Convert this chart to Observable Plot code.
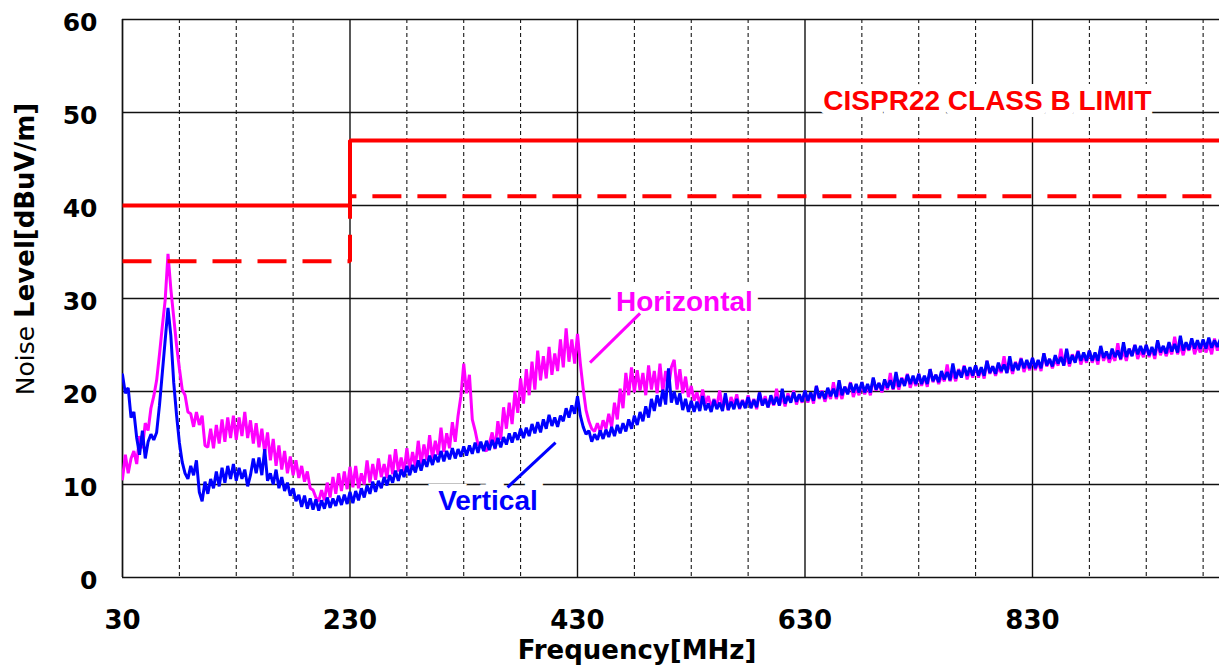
<!DOCTYPE html>
<html><head><meta charset="utf-8">
<script src="https://cdn.jsdelivr.net/npm/d3@7"></script>
<script src="https://cdn.jsdelivr.net/npm/@observablehq/plot@0.6"></script>
<style>html,body{margin:0;padding:0;background:#fff;overflow:hidden}</style>
</head><body><div id="chart"></div>
<script>
// Sweep frequencies (MHz)
const freq = [
30,32.5,35,37.5,40,42.5,45,47.5,50,52.5,55,57.5,60,62.5,65,67.5,70,72.5,75,77.5,
80,82.5,85,87.5,90,92.5,95,97.5,100,102.5,105,107.5,110,112.5,115,117.5,120,122.5,125,127.5,
130,132.5,135,137.5,140,142.5,145,147.5,150,152.5,155,157.5,160,162.5,165,167.5,170,172.5,175,177.5,
180,182.5,185,187.5,190,192.5,195,197.5,200,202.5,205,207.5,210,212.5,215,217.5,220,222.5,225,227.5,
230,232.5,235,237.5,240,242.5,245,247.5,250,252.5,255,257.5,260,262.5,265,267.5,270,272.5,275,277.5,
280,282.5,285,287.5,290,292.5,295,297.5,300,302.5,305,307.5,310,312.5,315,317.5,320,322.5,325,327.5,
330,332.5,335,337.5,340,342.5,345,347.5,350,352.5,355,357.5,360,362.5,365,367.5,370,372.5,375,377.5,
380,382.5,385,387.5,390,392.5,395,397.5,400,402.5,405,407.5,410,412.5,415,417.5,420,422.5,425,427.5,
430,432.5,435,437.5,440,442.5,445,447.5,450,452.5,455,457.5,460,462.5,465,467.5,470,472.5,475,477.5,
480,482.5,485,487.5,490,492.5,495,497.5,500,502.5,505,507.5,510,512.5,515,517.5,520,522.5,525,527.5,
530,532.5,535,537.5,540,542.5,545,547.5,550,552.5,555,557.5,560,562.5,565,567.5,570,572.5,575,577.5,
580,582.5,585,587.5,590,592.5,595,597.5,600,602.5,605,607.5,610,612.5,615,617.5,620,622.5,625,627.5,
630,632.5,635,637.5,640,642.5,645,647.5,650,652.5,655,657.5,660,662.5,665,667.5,670,672.5,675,677.5,
680,682.5,685,687.5,690,692.5,695,697.5,700,702.5,705,707.5,710,712.5,715,717.5,720,722.5,725,727.5,
730,732.5,735,737.5,740,742.5,745,747.5,750,752.5,755,757.5,760,762.5,765,767.5,770,772.5,775,777.5,
780,782.5,785,787.5,790,792.5,795,797.5,800,802.5,805,807.5,810,812.5,815,817.5,820,822.5,825,827.5,
830,832.5,835,837.5,840,842.5,845,847.5,850,852.5,855,857.5,860,862.5,865,867.5,870,872.5,875,877.5,
880,882.5,885,887.5,890,892.5,895,897.5,900,902.5,905,907.5,910,912.5,915,917.5,920,922.5,925,927.5,
930,932.5,935,937.5,940,942.5,945,947.5,950,952.5,955,957.5,960,962.5,965,967.5,970,972.5,975,977.5,
980,982.5,985,987.5,990,992.5,995];
// Horizontal polarisation level (dBuV/m)
const horizontal = [
10.6,13.2,11.2,12.8,13.6,12.2,15.2,13.9,16.6,15.8,18.2,19.5,21.2,24.0,27.0,29.8,34.8,31.0,28.0,25.0,
22.5,20.2,19.6,17.8,17.6,16.2,17.8,16.4,17.4,14.2,14.0,16.0,13.9,16.4,14.4,17.0,14.6,17.2,15.0,17.4,
14.8,17.2,15.2,17.8,15.0,16.9,14.4,16.6,14.0,16.0,13.4,15.6,12.6,14.9,12.0,14.2,11.6,13.6,11.2,13.0,
11.0,12.6,10.7,12.0,10.3,11.4,9.6,9.4,8.6,8.2,9.4,8.3,10.2,8.6,10.8,9.0,11.2,9.3,11.4,9.5,
11.9,9.7,12.0,9.6,11.2,10.0,12.6,10.2,12.2,10.5,12.8,10.8,12.2,10.7,13.2,11.1,13.8,11.4,12.9,11.3,
13.9,11.6,13.5,11.9,14.7,12.2,14.3,12.6,15.3,12.8,14.7,13.2,16.1,13.5,15.5,13.9,16.7,14.6,17.4,19.5,
23.0,19.8,21.8,17.0,15.8,14.3,14.2,13.8,13.6,14.4,15.6,13.8,16.8,14.8,18.3,16.0,18.8,16.5,20.0,17.7,
21.4,18.7,22.4,19.6,23.2,20.2,24.4,21.2,23.8,21.4,24.8,21.8,24.1,22.2,25.6,22.6,26.8,23.2,25.6,23.0,
26.2,23.0,20.3,18.0,16.8,16.0,15.7,16.6,15.6,16.9,16.0,17.6,16.2,18.8,17.0,20.3,18.2,22.0,19.6,22.6,
19.9,22.3,20.1,22.0,19.6,22.8,20.2,22.2,19.8,23.0,20.0,22.2,20.4,22.6,23.4,20.2,22.4,19.8,21.6,19.4,
20.6,19.0,19.9,18.6,20.2,18.7,19.5,18.3,19.2,18.4,20.1,18.2,19.2,18.0,19.4,18.5,19.7,18.1,19.1,18.3,
19.6,18.3,19.2,18.1,19.9,18.5,19.5,18.3,19.2,18.5,20.3,18.5,19.5,18.4,19.8,18.9,20.1,18.6,19.6,18.8,
20.1,18.8,19.8,18.7,20.6,19.2,20.1,18.9,19.9,19.2,21.0,19.2,20.2,19.2,20.5,19.8,21.0,19.4,20.4,19.6,
21.0,19.7,20.6,19.6,21.4,20.1,20.9,19.9,20.8,20.2,22.0,20.2,21.2,20.2,21.5,20.8,21.9,20.4,21.4,20.6,
21.9,20.6,21.6,20.5,22.4,21.0,21.8,20.8,21.7,21.1,22.9,21.1,22.1,21.1,22.4,21.7,22.8,21.3,22.3,21.5,
22.8,21.5,22.5,21.4,23.3,21.9,22.7,21.7,22.6,22.0,23.8,22.0,23.0,21.9,23.2,22.5,23.6,22.1,23.1,22.3,
23.6,22.3,23.3,22.2,24.1,22.7,23.5,22.5,23.4,22.8,24.6,22.8,23.8,22.7,24.0,23.3,24.4,22.9,23.9,23.1,
24.4,23.1,24.0,22.9,24.7,23.3,24.1,23.1,24.0,23.3,25.2,23.4,24.4,23.3,24.6,23.9,25.0,23.5,24.5,23.7,
25.0,23.7,24.6,23.5,25.3,23.9,24.8,23.8,24.7,24.0,25.9,24.0,25.0,23.9,25.1,24.4,25.5,24.0,25.0,24.2,
25.5,24.2,25.1,24.0,25.7,24.4,25.2];
// Vertical polarisation level (dBuV/m)
const vertical = [
21.8,19.8,20.4,17.2,17.8,15.0,13.2,15.8,12.8,14.6,15.4,14.8,15.6,18.5,22.0,25.5,29.0,26.0,21.0,17.5,
14.5,12.4,11.2,10.6,12.0,11.0,12.6,9.2,8.2,10.3,9.0,10.6,9.6,11.4,9.8,11.8,10.2,12.0,10.6,12.2,
10.4,11.8,10.6,11.6,9.8,11.0,12.8,11.2,12.9,11.0,13.8,10.4,11.2,10.0,11.6,9.6,10.8,9.3,10.2,8.8,
9.6,8.2,8.9,7.6,8.8,7.4,8.5,7.3,8.4,7.2,8.3,7.4,8.6,7.5,8.5,7.7,8.8,7.8,8.9,7.9,
9.2,8.0,9.3,8.3,9.6,8.6,9.9,9.0,10.3,9.2,10.4,9.6,10.8,9.9,11.0,10.2,11.5,10.4,11.6,10.8,
12.0,11.0,12.1,11.3,12.6,11.5,12.7,11.9,13.1,12.1,13.2,12.4,13.6,12.5,13.6,12.7,13.9,12.8,13.8,13.0,
14.1,13.1,14.2,13.3,14.5,13.4,14.6,13.6,14.7,13.7,14.8,13.9,15.0,14.0,15.1,14.3,15.5,14.5,15.6,14.8,
16.0,15.0,16.1,15.2,16.5,15.5,16.7,15.6,17.0,16.0,17.5,16.3,17.2,16.2,17.4,16.8,18.2,17.2,18.5,17.6,
19.5,17.4,16.2,15.4,15.8,14.6,15.4,14.8,15.8,14.9,15.9,15.1,16.2,15.2,16.4,15.5,16.6,15.7,17.0,16.0,
17.4,16.4,17.8,16.8,18.4,17.2,19.2,17.9,19.6,18.4,20.2,18.6,22.5,18.8,20.0,18.6,19.8,18.0,19.2,17.8,
19.0,17.8,18.9,17.9,19.5,18.0,18.7,17.8,19.1,18.1,18.8,17.9,19.8,18.0,18.9,18.1,19.2,18.2,19.0,18.2,
19.4,18.2,19.1,18.3,19.9,18.5,19.2,18.3,19.6,18.6,19.4,18.5,20.3,18.7,19.5,18.8,19.9,18.9,19.7,18.9,
20.1,19.0,19.9,19.0,20.6,19.3,20.0,19.2,20.4,19.5,20.3,19.4,21.2,19.6,20.5,19.7,20.9,19.9,20.8,19.9,
21.0,19.9,20.8,19.9,21.5,20.2,20.9,20.1,21.3,20.4,21.2,20.3,22.1,20.5,21.4,20.6,21.8,20.8,21.7,20.8,
21.9,20.8,21.7,20.8,22.4,21.1,21.8,21.0,22.2,21.3,22.1,21.2,23.0,21.4,22.3,21.5,22.7,21.7,22.6,21.7,
22.8,21.7,22.6,21.7,23.3,22.0,22.7,21.9,23.1,22.2,22.9,22.0,23.8,22.2,23.1,22.3,23.5,22.5,23.4,22.5,
23.6,22.5,23.4,22.5,24.1,22.8,23.5,22.7,23.9,23.0,23.7,22.8,24.6,23.0,23.9,23.1,24.3,23.3,24.2,23.3,
24.4,23.3,24.2,23.3,24.9,23.6,24.3,23.5,24.6,23.7,24.4,23.5,25.3,23.7,24.6,23.8,25.0,24.0,24.9,24.0,
25.0,23.9,24.8,23.9,25.5,24.2,24.9,24.1,25.3,24.3,25.1,24.2,26.0,24.4,25.3,24.5,25.7,24.6,25.5,24.6,
25.6,24.6,25.8,24.7,25.5,24.8,25.6];
// CISPR22 class B limit and margin line
const limitFreq = [30, 230, 230, 1000];
const limitQP = [40, 40, 47, 47];
const limitMargin = [34, 34, 41, 41];
// Axes
const yTicks = [0, 10, 20, 30, 40, 50, 60];
const xTicks = [30, 230, 430, 630, 830];
const xMinor = [80, 130, 180, 280, 330, 380, 480, 530, 580, 680, 730, 780, 880, 930, 980];
// Annotations
const labelText = ["CISPR22 CLASS B LIMIT", "Horizontal", "Vertical"];
const labelFreq = [790.4, 524, 351.3];
const labelLevel = [51.2, 29.6, 8.2];
const labelColor = ["#ff0000", "#ff00ff", "#0000ff"];
const leaderX1 = [441, 368.5];
const leaderY1 = [23.1, 9.7];
const leaderX2 = [485, 410.7];
const leaderY2 = [28.4, 14.5];
const leaderColor = ["#ff00ff", "#0000ff"];

const hData = freq.map((f, i) => ({f, v: horizontal[i]}));
const vData = freq.map((f, i) => ({f, v: vertical[i]}));
const qpData = limitFreq.map((f, i) => ({f, v: limitQP[i]}));
const mgData = limitFreq.map((f, i) => ({f, v: limitMargin[i]}));

const plot = Plot.plot({
  width: 1219,
  height: 668,
  marginTop: 19,
  marginBottom: 91,
  marginLeft: 122,
  marginRight: 0,
  style: {fontFamily: "DejaVu Sans", background: "#fff", overflow: "hidden"},
  x: {domain: [30, 994.4]},
  y: {domain: [0, 60]},
  color: {type: "identity"},
  marks: [
    Plot.ruleX(xMinor, {stroke: "#000", strokeWidth: 1, strokeDasharray: "4,3"}),
    Plot.ruleY(yTicks, {stroke: "#111", strokeWidth: 1.4}),
    Plot.ruleX([30, ...xTicks], {stroke: "#111", strokeWidth: 1.4}),
    Plot.axisY(yTicks, {tickSize: 0, tickPadding: 25, fontSize: 25, fontWeight: "bold", fontFamily: "DejaVu Sans", fill: "#000", label: null, dy: 3}),
    Plot.axisX(xTicks, {tickSize: 0, tickPadding: 33, fontSize: 26, fontWeight: "bold", fontFamily: "DejaVu Sans", fill: "#000", label: null}),
    Plot.line(hData, {x: "f", y: "v", stroke: "#ff00ff", strokeWidth: 3, strokeLinejoin: "miter", clip: true}),
    Plot.line(vData, {x: "f", y: "v", stroke: "#0000ff", strokeWidth: 3, strokeLinejoin: "miter", clip: true}),
    Plot.line(qpData, {x: "f", y: "v", stroke: "#ff0000", strokeWidth: 4, strokeLinejoin: "miter", strokeLinecap: "butt", clip: true}),
    Plot.line(mgData, {x: "f", y: "v", stroke: "#ff0000", strokeWidth: 4, strokeDasharray: "29,16", strokeLinejoin: "miter", strokeLinecap: "butt", clip: true}),
    Plot.text(labelText, {x: labelFreq, y: labelLevel, text: labelText, fill: labelColor, stroke: "#fff", strokeWidth: 14, strokeLinejoin: "miter", fontSize: 28, fontWeight: "bold", fontFamily: "Liberation Sans"}),
    Plot.link(leaderX1, {x1: leaderX1, y1: leaderY1, x2: leaderX2, y2: leaderY2, stroke: leaderColor, strokeWidth: 3})
  ]
});

const svg = d3.select(plot);
const yl = svg.append("text")
  .attr("transform", "translate(34,249) rotate(-90)")
  .attr("text-anchor", "middle")
  .attr("font-family", "DejaVu Sans")
  .attr("fill", "#000");
yl.append("tspan").attr("font-size", 25).text("Noise ");
yl.append("tspan").attr("font-size", 26).attr("font-weight", "bold").text("Level[dBuV/m]");
svg.append("text")
  .attr("x", 637).attr("y", 659)
  .attr("text-anchor", "middle")
  .attr("font-family", "DejaVu Sans")
  .attr("font-weight", "bold")
  .attr("font-size", 26)
  .attr("fill", "#000")
  .text("Frequency[MHz]");

document.getElementById("chart").appendChild(plot);
</script>
</body></html>
